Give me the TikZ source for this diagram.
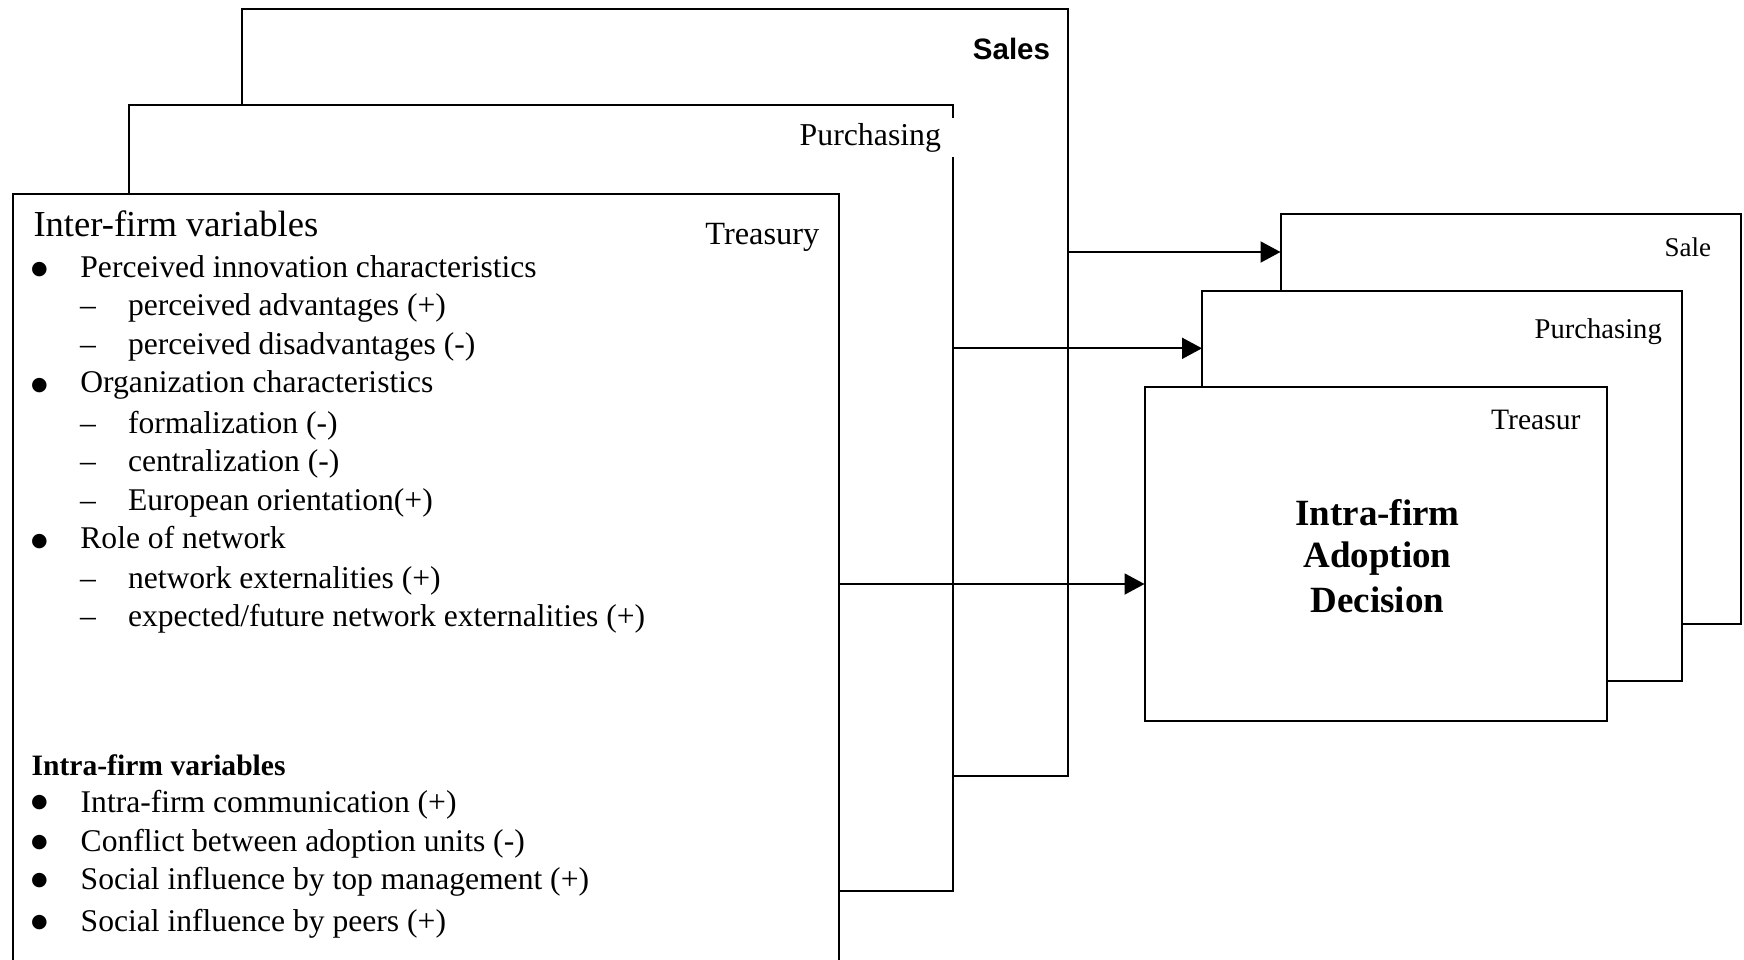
\documentclass[tikz,border=0pt]{standalone}
\usepackage{fontspec}
\setmainfont{Liberation Serif}
\setsansfont{Liberation Sans}
\newfontfamily\symfont{DejaVu Sans}
\usetikzlibrary{arrows.meta}
\newcommand{\fsz}[1]{\fontsize{#1}{#1}\selectfont}

\begin{document}
\begin{tikzpicture}[x=1pt,y=-1pt,
 panel/.style={draw, line width=2pt, fill=white, rectangle, inner sep=0pt, outer sep=0pt},
 lbl/.style={inner sep=0pt, outer sep=0pt, anchor=base east},
 item/.style={inner sep=0pt, outer sep=0pt, anchor=base west, font=\fsz{31.6}},
 bul/.style={inner sep=0pt, outer sep=0pt, anchor=center, font=\symfont\fsz{19}},
 conn/.style={line width=2pt, -{Triangle[length=20pt,width=21pt]}}]
\useasboundingbox (0,0) rectangle (1744,959);

% left stack
\node[panel, minimum width=826pt, minimum height=767.5pt] (salesBig) at (655,392.25) {};
\node[lbl, font=\sffamily\bfseries\fsz{29.5}] (salesLbl) at (1050,59.3) {Sales};

\node[panel, minimum width=823.5pt, minimum height=786.5pt] (purchBig) at (540.75,497.75) {};
\node[lbl, fill=white, inner xsep=13pt, inner ysep=5pt, font=\fsz{31.8}] (purchLbl) at (954,145) {Purchasing};

\node[panel, minimum width=826pt, minimum height=816pt] (treasBig) at (425.5,602) {};
\node[lbl, font=\fsz{32.4}] (treasLbl) at (819.4,244) {Treasury};

% inter-firm variables
\node[item, font=\fsz{36.6}] (interT) at (33.5,236.7) {Inter-firm variables};
\node[bul] (b1) at (39.5,269.5) {●};
\node[item] (t1) at (80.4,277) {Perceived innovation characteristics};
\node[item] (d11) at (80,315.5) {–};
\node[item] (t11) at (128,315.5) {perceived advantages (+)};
\node[item] (d12) at (80,354.3) {–};
\node[item] (t12) at (128,354.3) {perceived disadvantages (-)};
\node[bul] (b2) at (39.5,385.5) {●};
\node[item] (t2) at (80.4,392.7) {Organization characteristics};
\node[item] (d21) at (80,433.3) {–};
\node[item] (t21) at (128,433.3) {formalization (-)};
\node[item] (d22) at (80,471) {–};
\node[item] (t22) at (128,471) {centralization (-)};
\node[item] (d23) at (80,510.7) {–};
\node[item] (t23) at (128,510.7) {European orientation(+)};
\node[bul] (b3) at (39.5,541.3) {●};
\node[item] (t3) at (80.4,548.3) {Role of network};
\node[item] (d31) at (80,588) {–};
\node[item] (t31) at (128,588) {network externalities (+)};
\node[item] (d32) at (80,626) {–};
\node[item] (t32) at (128,626) {expected/future network externalities (+)};

% intra-firm variables
\node[item, font=\bfseries\fsz{29.6}] (intraT) at (31.6,775) {Intra-firm variables};
\node[bul] (c1) at (39.5,803) {●};
\node[item] (u1) at (80.7,812.3) {Intra-firm communication (+)};
\node[bul] (c2) at (39.5,843) {●};
\node[item] (u2) at (80.7,851.7) {Conflict between adoption units (-)};
\node[bul] (c3) at (39.5,880.5) {●};
\node[item] (u3) at (80.7,889.3) {Social influence by top management (+)};
\node[bul] (c4) at (39.5,923) {●};
\node[item] (u4) at (80.7,931.7) {Social influence by peers (+)};

% right stack
\node[panel, minimum width=460pt, minimum height=410pt] (saleR) at (1510.5,419) {};
\node[lbl, font=\fsz{27}] (saleRLbl) at (1711,256) {Sale};
\node[panel, minimum width=480pt, minimum height=390pt] (purchR) at (1442,485.5) {};
\node[lbl, font=\fsz{28.6}] (purchRLbl) at (1661.8,338.5) {Purchasing};
\node[panel, minimum width=462pt, minimum height=334pt] (treasR) at (1375.5,553.5) {};
\node[lbl, font=\fsz{29.6}] (treasRLbl) at (1580.5,429.3) {Treasur};

\node[inner sep=0pt, anchor=base, font=\bfseries\fsz{37}] (dec1) at (1377.5,525.7) {Intra-firm};
\node[inner sep=0pt, anchor=base, font=\bfseries\fsz{37}] (dec2) at (1377.5,567.7) {Adoption};
\node[inner sep=0pt, anchor=base, font=\bfseries\fsz{37}] (dec3) at (1377.5,612.7) {Decision};

% connectors
\coordinate (r1) at (0,252);
\coordinate (r2) at (0,348.3);
\coordinate (r3) at (0,584);
\draw[conn] (salesBig.east |- r1) -- (saleR.west |- r1);
\draw[conn] (purchBig.east |- r2) -- (purchR.west |- r2);
\draw[conn] (treasBig.east |- r3) -- (treasR.west |- r3);
\end{tikzpicture}
\end{document}
